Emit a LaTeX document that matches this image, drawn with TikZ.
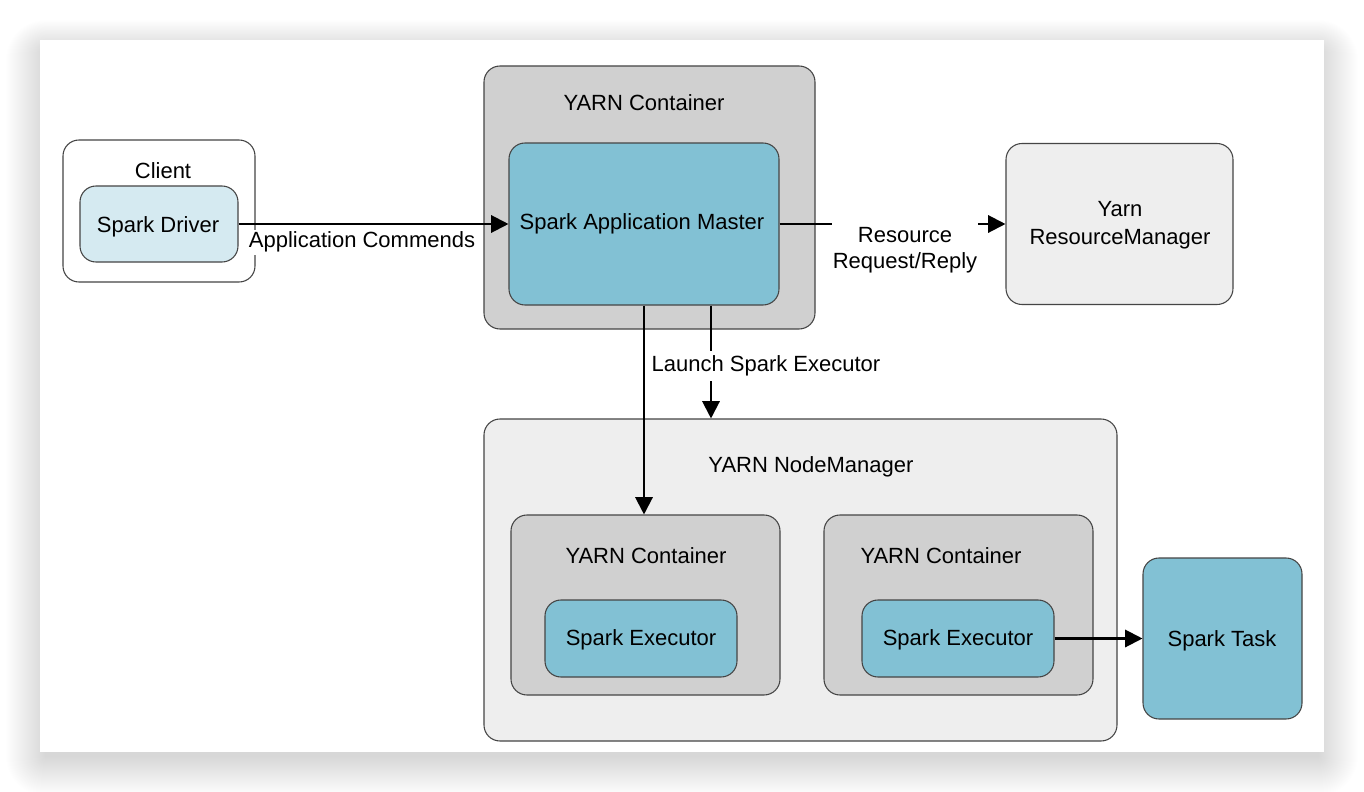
\documentclass[tikz,border=0pt]{standalone}
\usepackage{fontspec}
\setmainfont{Liberation Sans}
\usetikzlibrary{arrows.meta,calc}
\definecolor{blu}{HTML}{82C1D4}
\definecolor{lblu}{HTML}{D5EAF1}
\definecolor{gry}{HTML}{D0D0D0}
\definecolor{lgry}{HTML}{EEEEEE}
\definecolor{edgec}{HTML}{454545}
\begin{document}
\begin{tikzpicture}[x=0.75pt,y=-0.75pt,
  box/.style={draw=edgec, line width=0.8pt, rounded corners=12pt, inner sep=0pt},
  wh/.style 2 args={minimum width=#1*0.75pt, minimum height=#2*0.75pt},
  txt/.style={font=\fontsize{16.5}{19.5}\selectfont, inner sep=1pt, align=center},
  t1/.style={txt, text height=11.8pt, text depth=0pt, inner ysep=0pt},
  lbl/.style={txt, fill=white, inner xsep=1pt, text height=11.8pt, text depth=3.5pt},
  conn/.style={line width=1.6pt, -{Triangle[length=13pt,width=13pt]}},
]
\useasboundingbox (0,0) rectangle (1364,792);
\fill[white] (0,0) rectangle (1364,792);
% soft shadow of the card
\foreach \i in {1,...,40}{
  \fill[black, opacity=0.0028, rounded corners=\i*0.75pt] (46-\i,52-0.8*\i) rectangle (1318+\i,756+\i);
}
\node[fill=white, wh={1284}{712}, inner sep=0pt] (card) at (682,396) {};

% Client
\node[box, fill=white, wh={192}{142}] (client) at (159,211) {};
\node[t1] (clientt) at (163,170.5) {Client};
\node[box, fill=lblu, wh={158}{76}] (drv) at (159,224) {};
\node[t1] (drvt) at (158,224.4) {Spark Driver};

% YARN container (AM)
\node[box, fill=gry, wh={331}{263}] (amc) at (649.5,197.5) {};
\node[t1] (amct) at (644,103) {YARN Container};
\node[box, fill=blu, wh={270}{162}] (sam) at (644,224) {};
\node[t1] (samt) at (642,222) {Spark Application Master};

% Resource Manager
\node[box, fill=lgry, wh={227}{161}] (rm) at (1119.5,224) {};
\node[txt, font=\fontsize{16.5}{21}\selectfont] (rmt) at (1120,225.5) {Yarn\\ResourceManager};

% Node manager
\node[box, fill=lgry, wh={633}{322}] (nm) at (800.5,580) {};
\node[t1] (nmt) at (811,464.7) {YARN NodeManager};
\node[box, fill=gry, wh={269}{180}] (c1) at (645.5,605) {};
\node[t1] (c1t) at (646,555.8) {YARN Container};
\node[box, fill=blu, wh={192}{77}] (ex1) at (641,638.5) {};
\node[t1] (ex1t) at (641,638) {Spark Executor};
\node[box, fill=gry, wh={269}{180}] (c2) at (958.5,605) {};
\node[t1] (c2t) at (941,556) {YARN Container};
\node[box, fill=blu, wh={192}{77}] (ex2) at (958,638.5) {};
\node[t1] (ex2t) at (958,638) {Spark Executor};

% Spark task
\node[box, fill=blu, wh={159}{161}] (task) at (1222.5,638.5) {};
\node[t1] (taskt) at (1222,638.7) {Spark Task};

% connectors
\draw[conn] (drv.east) -- (sam.west);
\node[lbl, inner ysep=2pt] (l1) at (362,242.4) {Application Commends};

\draw[conn] (sam.east) -- (rm.west);
\node[txt, fill=white, inner ysep=6pt] (l2) at (905,250) {Resource\\Request/Reply};

\draw[conn] (sam.south) -- (sam.south |- c1.north);
\coordinate (ls) at ([xshift=50.25pt]sam.south);
\draw[conn] (ls) -- (ls |- nm.north);
\node[lbl, inner ysep=3.6pt] (l3) at (766,365.8) {Launch Spark Executor};

\draw[conn] (ex2.east) -- (task.west);
\end{tikzpicture}
\end{document}
